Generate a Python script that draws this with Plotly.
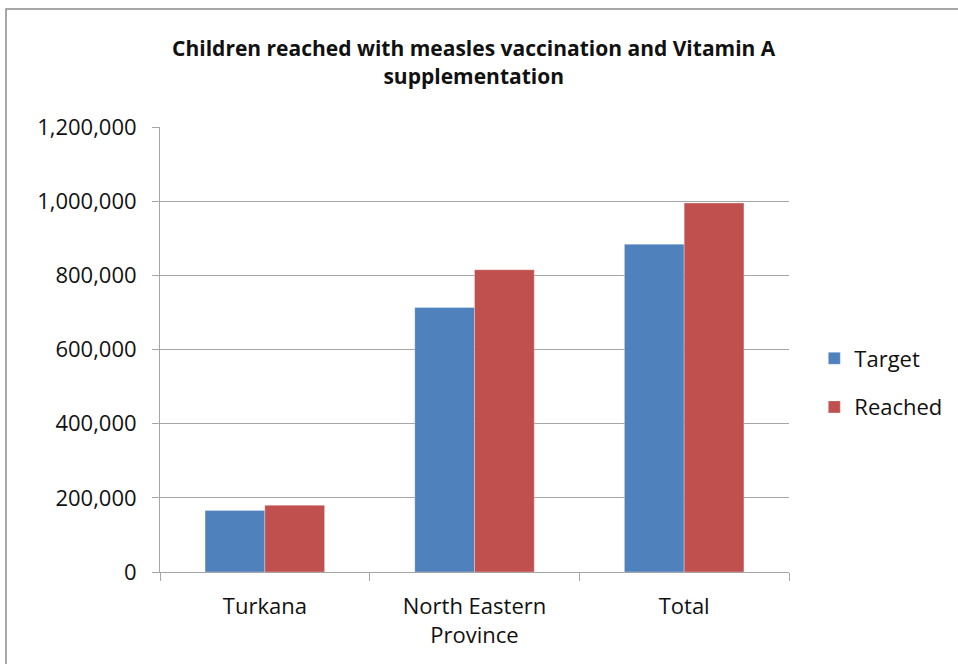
import plotly.graph_objects as go

categories = ["Turkana", "North Eastern<br>Province", "Total"]
target = [166000, 713500, 884000]
reached = [180000, 815000, 995000]
series_names = ["Target", "Reached"]
y_ticks = [0, 200000, 400000, 600000, 800000, 1000000, 1200000]
y_tick_labels = ["0", "200,000", "400,000", "600,000", "800,000", "1,000,000", "1,200,000"]
title_text = "Children reached with measles vaccination and Vitamin A<br>supplementation"

blue = "#4f81bd"
red = "#c0504d"
grid = "#a6a6a6"
font_family = "Open Sans"

fig = go.Figure()
fig.add_trace(go.Bar(
    x=categories, y=target, name=series_names[0], legendgroup="a",
    marker=dict(color=blue, line=dict(color="rgba(255,255,255,0.6)", width=0.5)),
))
fig.add_trace(go.Bar(
    x=categories, y=reached, name=series_names[1], legendgroup="b",
    marker=dict(color=red, line=dict(color="rgba(255,255,255,0.6)", width=0.5)),
))

fig.update_layout(
    width=958, height=664,
    margin=dict(l=160, r=169, t=127, b=92),
    paper_bgcolor="white", plot_bgcolor="white",
    font=dict(family=font_family, size=22, color="#111111"),
    title=dict(
        text="<b>" + title_text + "</b>",
        x=0.4945, xanchor="center", y=0.915, yanchor="middle",
        font=dict(family=font_family, size=21, color="#111111"),
    ),
    barmode="group", bargap=0.43, bargroupgap=0,
    legend=dict(
        xref="container", yref="container",
        x=0.85, xanchor="left", y=(664 - 383) / 664, yanchor="middle",
        font=dict(size=22), tracegroupgap=17, traceorder="grouped",
        itemwidth=30,
    ),
    showlegend=True,
)
fig.update_xaxes(
    showline=True, linecolor=grid, linewidth=1,
    ticks="outside", tickson="boundaries", ticklen=8, tickcolor=grid,
    showgrid=False, ticklabelstandoff=15,
)
fig.update_yaxes(
    range=[0, 1200000], tickvals=y_ticks, ticktext=y_tick_labels,
    showline=True, linecolor=grid, linewidth=1,
    ticks="outside", ticklen=7, tickcolor=grid,
    showgrid=True, gridcolor=grid, gridwidth=1.3,
    zeroline=False, ticklabelstandoff=11,
)
# outer chart frame (left and top edges visible)
fig.add_shape(type="rect", xref="paper", yref="paper",
              x0=-154 / 629, x1=1.5, y0=-0.5, y1=1 + 118 / 445,
              line=dict(color="#8c8c8c", width=1.5), fillcolor="rgba(0,0,0,0)",
              layer="below")

fig.write_html("out.html")
